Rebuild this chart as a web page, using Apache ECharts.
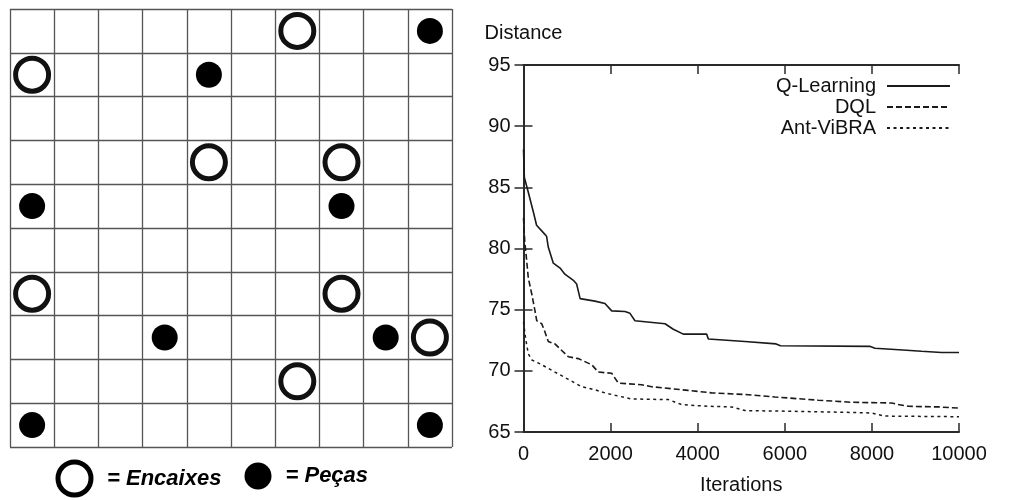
<!DOCTYPE html>
<html>
<head>
<meta charset="utf-8">
<script src="https://cdn.jsdelivr.net/npm/echarts@6/dist/echarts.min.js"></script>
<style>
  html, body { margin: 0; padding: 0; background: #fff; }
  #chart { width: 1013px; height: 500px; }
</style>
</head>
<body>
<div id="chart"></div>
<script>
// Board: 10 x 10 cells, positions given as [column, row]
const boardCols = ['1', '2', '3', '4', '5', '6', '7', '8', '9', '10'];
const boardRows = ['1', '2', '3', '4', '5', '6', '7', '8', '9', '10'];
const encaixes = [[6, 0], [0, 1], [4, 3], [7, 3], [0, 6], [7, 6], [9, 7], [6, 8]];
const pecas = [[9, 0], [4, 1], [0, 4], [7, 4], [3, 7], [8, 7], [0, 9], [9, 9]];

// Convergence curves: [iteration, distance]
const qLearning = [[0, 88.1], [20, 85.8], [110, 84.6], [225, 83.0], [300, 81.9], [455, 81.3], [530, 81.0],
  [570, 80.1], [685, 78.8], [840, 78.4], [950, 77.9], [1145, 77.4], [1220, 77.1], [1300, 75.9],
  [1640, 75.7], [1870, 75.5], [2025, 74.9], [2330, 74.85], [2445, 74.7], [2560, 74.1], [3250, 73.85],
  [3440, 73.4], [3670, 73.0], [4205, 73.0], [4245, 72.6], [5085, 72.4], [5125, 72.3], [5800, 72.2],
  [5900, 72.05], [7950, 72.0], [8070, 71.85], [8530, 71.75], [9140, 71.6], [9600, 71.5], [10000, 71.5]];
const dql = [[0, 82.5], [30, 80.5], [57, 79.6], [110, 77.6], [188, 76.3], [264, 74.9], [303, 74.1],
  [418, 73.85], [480, 73.3], [570, 72.4], [723, 72.2], [838, 71.8], [1030, 71.15], [1258, 71.0],
  [1566, 70.5], [1642, 70.2], [1717, 69.9], [2025, 69.8], [2177, 69.0], [2714, 68.86], [2944, 68.7],
  [3784, 68.4], [4320, 68.2], [5160, 68.05], [5775, 67.86], [6080, 67.78], [6770, 67.6], [7535, 67.43],
  [8455, 67.37], [8600, 67.25], [8835, 67.1], [9525, 67.05], [10000, 66.95]];
const antViBRA = [[0, 74.0], [50, 72.6], [110, 71.4], [188, 70.9], [418, 70.5], [723, 69.9], [1030, 69.3],
  [1336, 68.7], [1642, 68.45], [1870, 68.2], [2100, 68.0], [2484, 67.7], [3325, 67.65], [3632, 67.24],
  [4243, 67.1], [4780, 67.05], [5085, 66.75], [6080, 66.7], [7535, 66.6], [7995, 66.55], [8300, 66.3],
  [10000, 66.25]];

const xTicks = { min: 0, max: 10000, interval: 2000 };
const yTicks = { min: 65, max: 95, interval: 5 };

const FONT = "'Liberation Sans', Arial, Helvetica, sans-serif";
const INK = '#1a1a1a';

const chart = echarts.init(document.getElementById('chart'), null, { renderer: 'canvas' });

const boardAxisCommon = {
  type: 'category',
  boundaryGap: true,
  axisLine: { show: false },
  axisTick: { show: false },
  axisLabel: { show: false },
  splitLine: { show: true, interval: 0, lineStyle: { color: '#555', width: 1.3 } }
};

const frameLine = { show: true, lineStyle: { color: '#2a2a2a', width: 2 } };
const innerTick = { show: true, inside: true, length: 9, lineStyle: { color: '#2a2a2a', width: 1.5 } };

// One legend per curve so the line samples stay aligned on the right
const lineLegend = (name, top) => ({
  data: [name],
  right: 62,
  top: top,
  padding: 0,
  orient: 'vertical',
  align: 'right',
  itemWidth: 63,
  itemHeight: 14,
  selectedMode: false,
  itemStyle: { color: 'transparent', borderWidth: 0, opacity: 0 },
  textStyle: { fontFamily: FONT, fontSize: 20, color: '#111', padding: [0, 6, 0, 0] }
});

chart.setOption({
  animation: false,
  backgroundColor: '#fff',
  grid: [
    { left: 10, top: 9, width: 442, height: 438 },
    { left: 523.5, top: 65, width: 435.5, height: 371 }
  ],
  xAxis: [
    Object.assign({ gridIndex: 0, data: boardCols }, boardAxisCommon),
    {
      gridIndex: 1, type: 'value', min: xTicks.min, max: xTicks.max, interval: xTicks.interval,
      position: 'bottom',
      axisLine: frameLine, axisTick: innerTick,
      axisLabel: { fontFamily: FONT, fontSize: 20, color: '#111', margin: 12, formatter: v => String(v) },
      splitLine: { show: false },
      name: 'Iterations', nameLocation: 'middle', nameGap: 43,
      nameTextStyle: { fontFamily: FONT, fontSize: 20, color: '#111' }
    },
    {
      gridIndex: 1, type: 'value', min: xTicks.min, max: xTicks.max, interval: xTicks.interval,
      position: 'top',
      axisLine: frameLine, axisTick: innerTick,
      axisLabel: { show: false }, splitLine: { show: false }
    }
  ],
  yAxis: [
    Object.assign({ gridIndex: 0, data: boardRows, inverse: true }, boardAxisCommon),
    {
      gridIndex: 1, type: 'value', min: yTicks.min, max: yTicks.max, interval: yTicks.interval,
      position: 'left',
      axisLine: frameLine, axisTick: innerTick,
      axisLabel: { fontFamily: FONT, fontSize: 20, color: '#111', margin: 13 },
      splitLine: { show: false },
      name: 'Distance', nameLocation: 'end', nameGap: 22,
      nameTextStyle: { fontFamily: FONT, fontSize: 20, color: '#111' }
    },
    {
      gridIndex: 1, type: 'value', min: yTicks.min, max: yTicks.max, interval: yTicks.interval,
      position: 'right',
      axisLine: frameLine, axisTick: innerTick,
      axisLabel: { show: false }, splitLine: { show: false }
    }
  ],
  legend: [
    lineLegend('Q-Learning', 76),
    lineLegend('DQL', 97),
    lineLegend('Ant-ViBRA', 118),
    {
      data: ['Encaixes'], left: 55.5, top: 459.5, padding: 0,
      itemWidth: 33, itemHeight: 33, selectedMode: false,
      itemStyle: { color: '#fff', borderColor: '#000', borderWidth: 5 },
      formatter: '= {name}',
      textStyle: { fontFamily: FONT, fontSize: 22, fontWeight: 'bold', fontStyle: 'italic', color: '#000', padding: [0, 0, 0, 11] }
    },
    {
      data: ['Peças'], left: 244.5, top: 462.5, padding: 0,
      itemWidth: 27, itemHeight: 27, selectedMode: false,
      itemStyle: { color: '#000', borderWidth: 0 },
      formatter: '= {name}',
      textStyle: { fontFamily: FONT, fontSize: 22, fontWeight: 'bold', fontStyle: 'italic', color: '#000', padding: [0, 0, 0, 9] }
    }
  ],
  series: [
    {
      name: 'Encaixes', type: 'scatter', xAxisIndex: 0, yAxisIndex: 0,
      symbol: 'circle', symbolSize: 33,
      itemStyle: { color: '#fff', borderColor: '#111', borderWidth: 5, opacity: 1 },
      data: encaixes
    },
    {
      name: 'Peças', type: 'scatter', xAxisIndex: 0, yAxisIndex: 0,
      symbol: 'circle', symbolSize: 26,
      itemStyle: { color: '#000', opacity: 1 },
      data: pecas
    },
    {
      name: 'Q-Learning', type: 'line', xAxisIndex: 1, yAxisIndex: 1,
      symbol: 'none', data: qLearning,
      lineStyle: { color: INK, width: 1.6, type: 'solid' }
    },
    {
      name: 'DQL', type: 'line', xAxisIndex: 1, yAxisIndex: 1,
      symbol: 'none', data: dql,
      lineStyle: { color: INK, width: 1.6, type: [6, 3] }
    },
    {
      name: 'Ant-ViBRA', type: 'line', xAxisIndex: 1, yAxisIndex: 1,
      symbol: 'none', data: antViBRA,
      lineStyle: { color: INK, width: 1.5, type: [3, 3.5] }
    }
  ]
});
</script>
</body>
</html>
